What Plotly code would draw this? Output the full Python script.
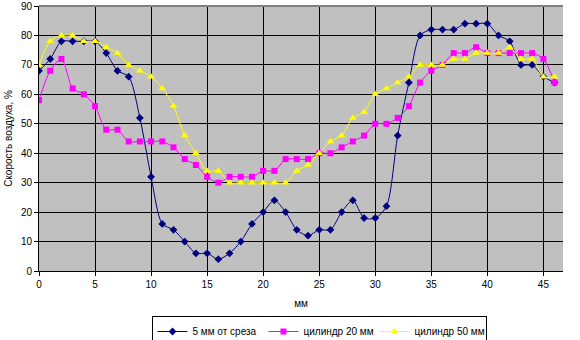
import plotly.graph_objects as go

x_mm = list(range(0, 47))
s5mm = [68, 72, 78, 78, 78, 78, 74, 68, 66, 52, 32, 16, 14, 10, 6, 6, 4, 6, 10, 16,
        20, 24, 20, 14, 12, 14, 14, 20, 24, 18, 18, 22, 46, 64, 80, 82, 82, 82, 84, 84,
        84, 80, 78, 70, 70, 66, 64]
cyl20 = [58, 68, 72, 62, 60, 56, 48, 48, 44, 44, 44, 44, 42, 38, 36, 32, 30, 32, 32, 32,
         34, 34, 38, 38, 38, 40, 40, 42, 44, 46, 50, 50, 52, 56, 64, 68, 70, 74, 74, 76,
         74, 74, 74, 74, 74, 72, 64]
cyl50 = [70, 78, 80, 80, 78, 78, 76, 74, 70, 68, 66, 62, 56, 46, 40, 34, 34, 30, 30, 30,
         30, 30, 30, 34, 36, 40, 44, 46, 52, 54, 60, 62, 64, 66, 70, 70, 70, 72, 72, 74,
         74, 74, 76, 72, 72, 66, 66]
names = ["5 мм от среза", "цилиндр 20 мм", "цилиндр 50 мм"]
colors = ["#000080", "#FF00FF", "#FFFF00"]
symbols = ["diamond", "square", "triangle-up"]
sizes = [6, 6, 7]

fig = go.Figure()
for ys, nm, c, sym, sz in zip([s5mm, cyl20, cyl50], names, colors, symbols, sizes):
    fig.add_trace(go.Scatter(
        x=x_mm, y=ys, name=nm, mode="lines+markers",
        line=dict(color=c, width=1, shape="spline", smoothing=0.8),
        marker=dict(symbol=sym, size=sz, color=c, line=dict(width=0)),
    ))

font = "Liberation Sans, Arial, sans-serif"
fig.update_layout(
    width=580, height=340,
    margin=dict(l=39, r=17, t=6, b=69, autoexpand=False),
    paper_bgcolor="white", plot_bgcolor="#C0C0C0",
    font=dict(family=font, size=10, color="black"),
    showlegend=True,
    legend=dict(orientation="h", xref="container", yref="container",
                x=319 / 580, xanchor="center", y=1 - 316 / 340, yanchor="top",
                bordercolor="black", borderwidth=1, bgcolor="white",
                font=dict(size=10), itemwidth=30, entrywidth=66,
                entrywidthmode="pixels", tracegroupgap=0),
    xaxis=dict(range=[0, 46.75], tick0=0, dtick=5, showgrid=True, gridcolor="black",
               gridwidth=1, showline=True, linecolor="black", linewidth=1,
               ticks="outside", ticklen=4, tickcolor="black", zeroline=False,
               title=dict(text="мм", font=dict(size=10), standoff=10)),
    yaxis=dict(range=[0, 90], tick0=0, dtick=10, showgrid=True, gridcolor="black",
               gridwidth=1, showline=True, linecolor="black", linewidth=1,
               ticks="outside", ticklen=4, tickcolor="black", zeroline=False,
               title=dict(text="Скорость воздуха, %", font=dict(size=10), standoff=6)),
)
fig.add_shape(type="line", xref="paper", yref="paper", x0=0, x1=1, y0=1, y1=1,
              line=dict(color="#808080", width=2))
fig.write_html("out.html")
